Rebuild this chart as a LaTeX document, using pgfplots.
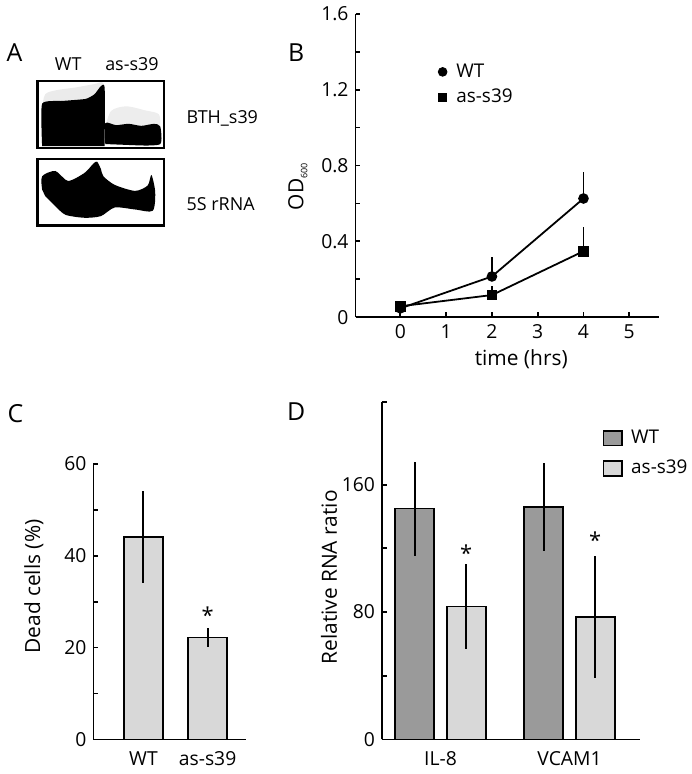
\documentclass[border=0pt]{standalone}
\usepackage{pgfplots}
\pgfplotsset{compat=1.18}
\usepackage{fontspec}
\setmainfont{Open Sans}
\definecolor{wtgray}{HTML}{9A9A9A}
\definecolor{asgray}{HTML}{D8D8D8}
\begin{document}
\begin{tikzpicture}[x=1pt,y=1pt]
\path (0,0) rectangle (342.5,387);
\pgfplotsset{
  every axis/.append style={
    scale only axis,
    axis line style={-,line width=0.9pt},
    tick style={line width=0.9pt, black},
    major tick length=2.5pt, minor tick length=2.5pt,
    tick align=inside,
    /pgf/number format/assume math mode=true,
    tick label style={font=\fontsize{9.7}{12}\selectfont},
    label style={font=\fontsize{10.5}{12}\selectfont},
  }
}
% ---------------- Panel A ----------------
\node[font=\fontsize{12.5}{14}\selectfont] at (4.5,362.5) {A};
\node[font=\fontsize{9}{11}\selectfont] at (31.5,356.5) {WT};
\node[font=\fontsize{9}{11}\selectfont] at (63.5,356.5) {as-s39};
\node[font=\fontsize{9}{11}\selectfont, anchor=west] at (87.5,329.5) {BTH\_s39};
\node[font=\fontsize{9}{11}\selectfont, anchor=west] at (87.5,286.5) {5S rRNA};
\begin{axis}[at={(16.15pt,314.5pt)}, anchor=south west, width=63.5pt, height=33.85pt,
  xmin=0,xmax=1,ymin=0,ymax=1, ticks=none, axis on top,
  axis line style={line width=1.2pt}]
\addplot[fill=black!8, draw=none, smooth, tension=0.5] coordinates {(0.035,0.6)(0.06,0.8)(0.15,0.86)(0.3,0.9)(0.45,0.95)(0.52,0.96)(0.53,0.6)} -- cycle;
\addplot[fill=black!7, draw=none, smooth, tension=0.5] coordinates {(0.535,0.3)(0.58,0.55)(0.7,0.62)(0.85,0.56)(0.96,0.5)(0.97,0.3)} -- cycle;
\addplot[fill=black, draw=none, smooth, tension=0.3] coordinates {(0.035,0.03)(0.035,0.66)(0.2,0.70)(0.38,0.73)(0.45,0.8)(0.5,0.92)(0.53,0.9)(0.53,0.03)} -- cycle;
\addplot[fill=black, draw=none, smooth, tension=0.4] coordinates {(0.535,0.06)(0.535,0.37)(0.62,0.34)(0.72,0.36)(0.82,0.33)(0.92,0.36)(0.97,0.32)(0.97,0.06)(0.8,0.04)} -- cycle;
\end{axis}
\begin{axis}[at={(16.15pt,275.65pt)}, anchor=south west, width=63.5pt, height=33.35pt,
  xmin=0,xmax=1,ymin=0,ymax=1, ticks=none, axis on top,
  axis line style={line width=1.2pt}]
\addplot[fill=black, draw=none, smooth, tension=0.45] coordinates {(0.035,0.54)(0.035,0.74)(0.14,0.82)(0.24,0.67)(0.37,0.79)(0.44,0.93)(0.47,0.96)(0.5,0.85)(0.52,0.74)(0.61,0.61)(0.77,0.52)(0.87,0.6)(0.9,0.76)(0.93,0.5)(0.91,0.22)(0.77,0.24)(0.61,0.27)(0.5,0.14)(0.37,0.115)(0.22,0.16)(0.14,0.29)(0.06,0.44)} -- cycle;
\end{axis}
% ---------------- Panel B ----------------
\node[font=\fontsize{12.5}{14}\selectfont] at (146,362.5) {B};
\begin{axis}[at={(175.85pt,229.5pt)}, anchor=south west, width=152.5pt, height=152.5pt,
  axis lines*=left, xmin=-0.98, xmax=5.65, ymin=0, ymax=1.6,
  xtick={0,1,2,3,4,5},
  ytick={0,0.4,0.8,1.2,1.6}, yticklabels={0,0.4,0.8,1.2,1.6},
  minor ytick={0.2,0.6,1.0,1.4},
  xlabel={time (hrs)},
  xlabel style={at={(axis description cs:0.546,-0.137)}, anchor=center},
  ylabel={OD\raisebox{-0.35ex}{\fontsize{4.5}{5}\selectfont 600}},
  ylabel style={at={(axis description cs:-0.19,0.43)}, anchor=center},
  clip=false,
  legend style={draw=none, fill=none, at={(axis description cs:0.27,0.85)}, anchor=north west,
    font=\fontsize{9.5}{11}\selectfont, row sep=0.5pt, inner sep=0pt, column sep=2.5pt},
  legend cell align=left]
\addplot[black, line width=0.9pt, mark=*, mark size=2.2pt, forget plot,
  error bars/.cd, y dir=plus, y explicit, error mark=none, error bar style={line width=0.9pt}]
  coordinates {(0,0.047) +- (0,0) (2,0.215) +- (0,0.10) (4,0.626) +- (0,0.14)};
\addplot[black, line width=0.9pt, mark=square*, mark size=2.25pt, forget plot,
  error bars/.cd, y dir=plus, y explicit, error mark=none, error bar style={line width=0.9pt}]
  coordinates {(0,0.058) +- (0,0) (2,0.117) +- (0,0.049) (4,0.348) +- (0,0.129)};
\addlegendimage{legend image code/.code={\fill[black] (0.15cm,0) circle (2.2pt);}}
\addlegendentry{WT}
\addlegendimage{legend image code/.code={\fill[black] (0.15cm-2.1pt,-2.1pt) rectangle ++(4.2pt,4.2pt);}}
\addlegendentry{as-s39}
\end{axis}
% ---------------- Panel C ----------------
\node[font=\fontsize{12.5}{14}\selectfont] at (5,181) {C};
\begin{axis}[at={(44.15pt,17.35pt)}, anchor=south west, width=76.7pt, height=138.5pt,
  axis lines*=left, xmin=-0.78, xmax=1.6, ymin=0, ymax=60,
  ybar, bar width=19.5pt,
  xtick={0,1}, xticklabels={WT,as-s39}, xtick style={draw=none},
  ytick={0,20,40,60}, minor ytick={10,30,50},
  ylabel={Dead cells (\%)},
  ylabel style={at={(axis description cs:-0.39,0.555)}, anchor=center},
  clip=false]
\addplot[fill=asgray, draw=black, line width=0.9pt,
  error bars/.cd, y dir=both, y explicit, error mark=none, error bar style={line width=1pt}]
  coordinates {(0,44.0) +- (0,10.0) (1,22.2) +- (0,2.1)};
\node[font=\fontsize{11}{12}\selectfont] at (axis cs:1,27.0) {*};
\end{axis}
% ---------------- Panel D ----------------
\node[font=\fontsize{12.5}{14}\selectfont] at (146,182) {D};
\begin{axis}[at={(189.15pt,17.35pt)}, anchor=south west, width=129.7pt, height=169.65pt,
  axis lines*=left, xmin=-0.454, xmax=1.547, ymin=0, ymax=212,
  ybar=6.2pt, bar width=19.65pt,
  xtick={0,1}, xticklabels={IL-8,VCAM1}, xtick style={draw=none},
  ytick={0,80,160}, minor ytick={40,120,212},
  ylabel={Relative RNA ratio},
  ylabel style={at={(axis description cs:-0.205,0.48)}, anchor=center},
  clip=false,
  legend style={draw=none, fill=none, at={(axis description cs:0.853,0.93)}, anchor=north west,
    font=\fontsize{9.5}{11}\selectfont, row sep=3pt, inner sep=0pt, column sep=2pt},
  legend cell align=left,
  legend image code/.code={\draw[#1, line width=0.9pt] (0pt,-3.75pt) rectangle (9.5pt,3.75pt);}]
\addplot[fill=wtgray, draw=black, line width=0.9pt,
  error bars/.cd, y dir=both, y explicit, error mark=none, error bar style={line width=1pt}]
  coordinates {(0,145.0) +- (0,29.5) (1,145.8) +- (0,27.5)};
\addlegendentry{WT}
\addplot[fill=asgray, draw=black, line width=0.9pt,
  error bars/.cd, y dir=both, y explicit, error mark=none, error bar style={line width=1pt}]
  coordinates {(0,83.5) +- (0,26.5) (1,76.9) +- (0,38.3)};
\addlegendentry{as-s39}
\node[font=\fontsize{11}{12}\selectfont, xshift=12.93pt] at (axis cs:0,117) {*};
\node[font=\fontsize{11}{12}\selectfont, xshift=12.93pt] at (axis cs:1,125) {*};
\end{axis}
\end{tikzpicture}
\end{document}
